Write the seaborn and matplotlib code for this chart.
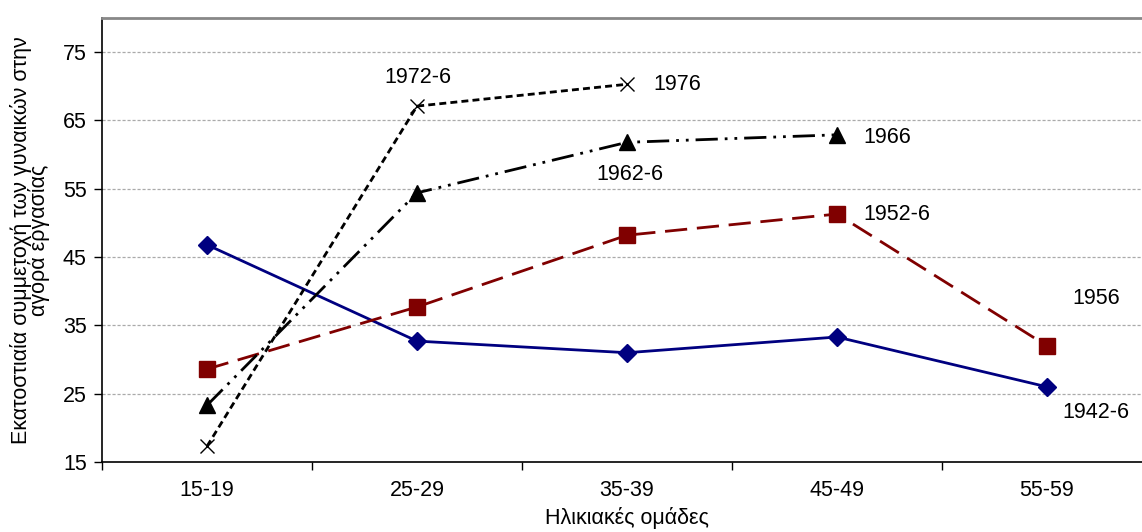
import matplotlib
matplotlib.use("Agg")
import matplotlib.pyplot as plt
import seaborn as sns
import numpy as np
import pandas as pd

categories = ["15-19", "25-29", "35-39", "45-49", "55-59"]
s1942 = [46.8, 32.7, 31.0, 33.3, 26.0]
s1952 = [28.6, 37.7, 48.2, 51.3, 32.0]
s1962 = [23.3, 54.4, 61.8, 62.9]
s1972 = [17.3, 67.1, 70.3]
yticks = [15, 25, 35, 45, 55, 65, 75]

sns.set_theme(style="white")
plt.rcParams['font.family'] = ['Liberation Sans', 'DejaVu Sans']
plt.rcParams['text.color'] = 'black'
plt.rcParams['axes.labelcolor'] = 'black'
plt.rcParams['xtick.color'] = 'black'
plt.rcParams['ytick.color'] = 'black'

fig = plt.figure(figsize=(11.42, 5.32), dpi=100)
ax = fig.add_axes([102/1142, 70/532, 1 - 102/1142, (462-18)/532])

def draw(vals, color, marker, ls, ms, mew=1.0, lw=2.0):
    x = np.arange(len(vals))
    sns.lineplot(x=x, y=vals, ax=ax, color=color, marker=marker, linestyle=ls,
                 markersize=ms, markeredgecolor=color, markerfacecolor=color,
                 markeredgewidth=mew, linewidth=lw, legend=False)

draw(s1942, "#000080", "D", "-", 9.5)
draw(s1952, "#800000", "s", (0, (8, 3.5)), 11)
draw(s1962, "black", "^", (0, (8, 2.5, 1, 2.5, 1, 2.5)), 11)
draw(s1972, "black", "x", (0, (2.5, 1.5)), 10, mew=1.0)

fs = 15.5
ax.set_yticks(yticks)
ax.set_yticklabels([str(v) for v in yticks], fontsize=fs)
ax.set_xticks(range(len(categories)))
ax.set_xticklabels(categories, fontsize=fs)
ax.set_xticks(np.arange(-0.5, 4.6, 1.0), minor=True)
ax.set_ylim(15, 80)
ax.set_xlim(-0.5, (1142 - 102) / 210 - 0.5)
ax.tick_params(axis='x', which='major', length=0, pad=13)
ax.tick_params(axis='x', which='minor', length=6, width=1, color='black', direction='out', bottom=True)
ax.tick_params(axis='y', length=6, width=1, color='black', direction='out', left=True, pad=5)

for y in yticks[1:]:
    ax.axhline(y, color='#aaaaaa', linestyle=(0, (2.5, 1.5)), linewidth=0.9, zorder=0)

for side in ['left', 'bottom']:
    ax.spines[side].set_color('black')
    ax.spines[side].set_linewidth(1.2)
ax.spines['top'].set_color('#888888')
ax.spines['top'].set_linewidth(2.0)
ax.spines['right'].set_visible(False)

ax.set_xlabel("Ηλικιακές ομάδες", fontsize=fs)
ax.xaxis.set_label_coords((627 - 102) / 1040, -(507 - 462) / 444)
ax.set_ylabel("Εκατοστιαία συμμετοχή των γυναικών στην\nαγορά εργασίας", fontsize=fs, linespacing=0.75)
ax.yaxis.set_label_coords(-(102 - 50) / 1040, 0.5)

ax.text(1.005, 71.3, "1972-6", fontsize=fs, ha='center', va='center')
ax.text(2.124, 70.2, "1976", fontsize=fs, ha='left', va='center')
ax.text(3.124, 62.5, "1966", fontsize=fs, ha='left', va='center')
ax.text(2.012, 57.15, "1962-6", fontsize=fs, ha='center', va='center')
ax.text(3.124, 51.2, "1952-6", fontsize=fs, ha='left', va='center')
ax.text(4.233, 39.0, "1956", fontsize=fs, ha='center', va='center')
ax.text(4.233, 22.3, "1942-6", fontsize=fs, ha='center', va='center')

fig.savefig("out.png", dpi=100)
